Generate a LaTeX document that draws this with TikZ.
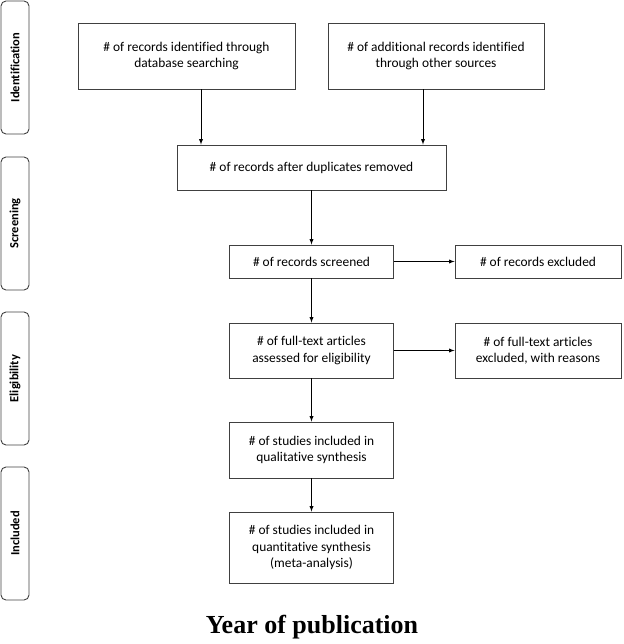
\documentclass[tikz,border=0pt]{standalone}
\usepackage{fontspec}
\setmainfont{Carlito}[Ligatures=NoCommon]
\newfontfamily\titlefont{Liberation Serif}

\begin{document}
\begin{tikzpicture}[x=1pt,y=-1pt,>=latex,line width=0.9pt,
	box/.style={draw=black!75,align=center,inner sep=0pt,
		font=\fontsize{13.4}{16.5}\selectfont},
	phase/.style={draw=black!75,rounded corners=5pt,minimum width=133pt,
		minimum height=28pt,rotate=90,font=\bfseries\fontsize{12.5}{14}\selectfont}]
\useasboundingbox (0,0) rectangle (623,644);
\foreach \lab/\y [count=\i] in {Identification/67.5,Screening/223.5,Eligibility/378.5,Included/533.5}{
	\node[phase] (p\i) at (15,\y) {\lab};
}
\node[box,minimum width=217pt,minimum height=66pt] (ident) at (186.5,56)
	{\# of records identified through\\database searching};
\node[box,minimum width=216pt,minimum height=66pt] (other) at (436,56)
	{\# of additional records identified\\through other sources};
\node[box,minimum width=269pt,minimum height=45pt] (dupl) at (311.5,167.5)
	{\# of records after duplicates removed};
\node[box,minimum width=164pt,minimum height=33pt] (screen) at (311.5,261.5)
	{\# of records screened};
\node[box,minimum width=166pt,minimum height=33pt] (excl) at (538,261.5)
	{\# of records excluded};
\node[box,minimum width=164pt,minimum height=55pt] (full) at (311.5,350.5)
	{\# of full-text articles\\assessed for eligibility};
\node[box,minimum width=166pt,minimum height=55pt] (fullex) at (538,350.5)
	{\# of full-text articles\\excluded, with reasons};
\node[box,minimum width=164pt,minimum height=56pt] (qual) at (311.5,450)
	{\# of studies included in\\qualitative synthesis};
\node[box,minimum width=164pt,minimum height=71pt] (quant) at (311.5,547.5)
	{\# of studies included in\\quantitative synthesis\\(meta-analysis)};
\node[anchor=base,font=\titlefont\bfseries\fontsize{26}{30}\selectfont] (title) at (312,633)
	{Year of publication};
% arrows
\draw[->] ([xshift=14.5pt]ident.south) -- ([xshift=14.5pt]ident.south |- dupl.north);
\draw[->] ([xshift=-13pt]other.south) -- ([xshift=-13pt]other.south |- dupl.north);
\draw[->] (dupl) -- (screen);
\draw[->] (screen) -- (excl);
\draw[->] (screen) -- (full);
\draw[->] (full) -- (fullex);
\draw[->] (full) -- (qual);
\draw[->] (qual) -- (quant);
\end{tikzpicture}
\end{document}
